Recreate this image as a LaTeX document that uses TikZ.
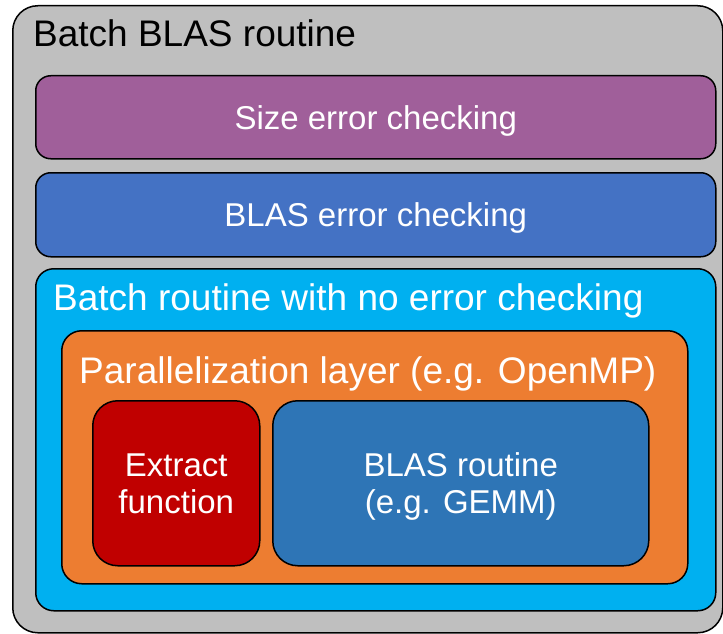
\documentclass[tikz,border=0pt]{standalone}
\usepackage{fontspec}
\setmainfont{Liberation Sans}

\definecolor{shellgray}{HTML}{BFBFBF}
\definecolor{sizepurple}{HTML}{A05F9A}
\definecolor{errblue}{HTML}{4472C4}
\definecolor{batchcyan}{HTML}{00B0F0}
\definecolor{parorange}{HTML}{ED7D31}
\definecolor{extractred}{HTML}{C00000}
\definecolor{routineblue}{HTML}{2E75B6}

\tikzset{
  layer/.style={draw=black, line width=1.5pt, rounded corners=#1, inner sep=0pt, anchor=north west},
  bigtext/.style={font=\fontsize{37}{44}\selectfont, inner sep=0pt, anchor=base west},
  boxtext/.style={text=white, font=\fontsize{33}{37}\selectfont, align=center, text depth=0pt}
}

\begin{document}
\begin{tikzpicture}[x=1pt, y=-1pt]
    \useasboundingbox (0,0) rectangle (723,634);

    % outer routine and the two checking layers
    \node[layer=25pt, fill=shellgray, minimum width=710pt, minimum height=627pt] (batch) at (12,5) {};
    \node[bigtext] (batchlabel) at (33,47) {Batch BLAS routine};

    \node[layer=15pt, fill=sizepurple, minimum width=680pt, minimum height=83pt, boxtext] (sizecheck) at (35,75) {Size error checking};
    \node[layer=15pt, fill=errblue, minimum width=680pt, minimum height=84pt, boxtext] (blascheck) at (35,172) {BLAS error checking};

    % routine without checks
    \node[layer=18pt, fill=batchcyan, minimum width=680pt, minimum height=342pt] (nocheck) at (35,268) {};
    \node[bigtext, text=white] (nochecklabel) at (53,310) {Batch routine with no error checking};

    \node[layer=20pt, fill=parorange, minimum width=626pt, minimum height=253pt] (parlayer) at (61,330) {};
    \node[bigtext, text=white] (parlabel) at (79,383) {Parallelization layer (e.g. OpenMP)};

    % work done per thread
    \node[layer=25pt, fill=extractred, minimum width=167pt, minimum height=165pt, boxtext] (extract) at (92,400) {Extract\\function};
    \node[layer=25pt, fill=routineblue, minimum width=376pt, minimum height=165pt, boxtext] (routine) at (272,400) {BLAS routine\\(e.g. GEMM)};
\end{tikzpicture}
\end{document}
